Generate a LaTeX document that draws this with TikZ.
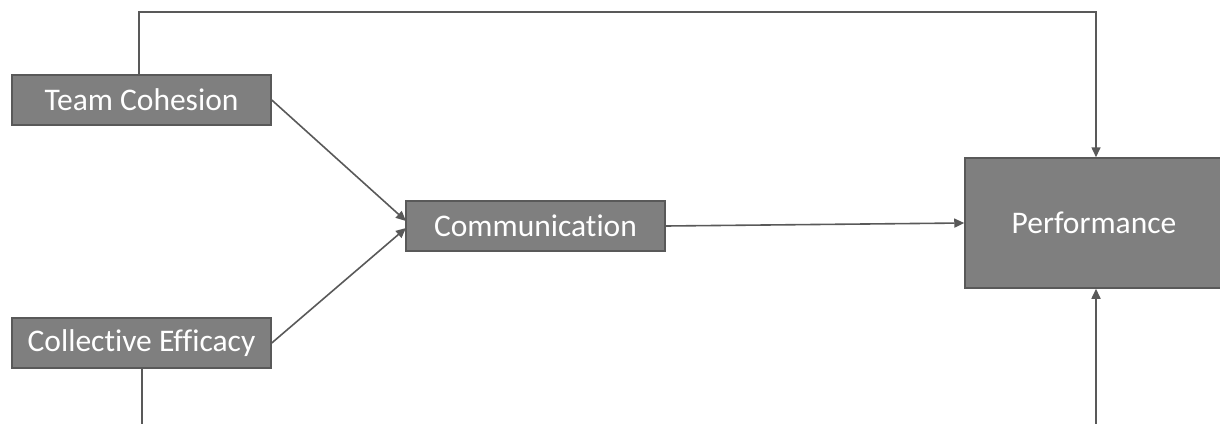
\documentclass[tikz,border=0pt]{standalone}
\usepackage{fontspec}
\setmainfont[Ligatures=NoCommon]{Carlito}
\usetikzlibrary{arrows.meta}
\definecolor{boxfill}{HTML}{7F7F7F}
\definecolor{boxline}{HTML}{595959}
\begin{document}
\begin{tikzpicture}[x=1pt,y=-1pt,
  box/.style={draw=boxline, line width=1.5pt, fill=boxfill, text=white, inner sep=0pt, font=\fontsize{31.5}{36}\selectfont},
  conn/.style={draw=boxline, line width=1.6pt},
  arr/.style={conn, -{Triangle[length=10pt,width=9pt]}}]
\useasboundingbox (0,0) rectangle (1220,423);
\node[box, minimum width=259pt, minimum height=50pt] (tc) at (141.5,100) {Team Cohesion};
\node[box, minimum width=259pt, minimum height=50pt] (ce) at (141.5,343) {Collective Efficacy};
\node[box, minimum width=259pt, minimum height=50pt] (cm) at (535.5,226) {Communication};
\node[box, minimum width=258pt, minimum height=130pt] (pf) at (1094,223) {Performance};
\coordinate (t1) at (139,12);
\coordinate (t2) at (1096,12);
\coordinate (b1) at (142,425);
\coordinate (b2) at (1096,425);
\coordinate (cmin1) at (406,221);
\coordinate (cmin2) at (406,228);
\draw[arr] (tc.north -| t1) -- (t1) -- (t2) -- (pf.north -| t2);
\draw[conn] (ce.south -| b1) -- (b1);
\draw[arr] (b2) -- (pf.south -| b2);
\draw[arr] (tc.east) -- (cmin1);
\draw[arr] (ce.east) -- (cmin2);
\draw[arr] (cm.east) -- (pf.west);
\end{tikzpicture}
\end{document}
